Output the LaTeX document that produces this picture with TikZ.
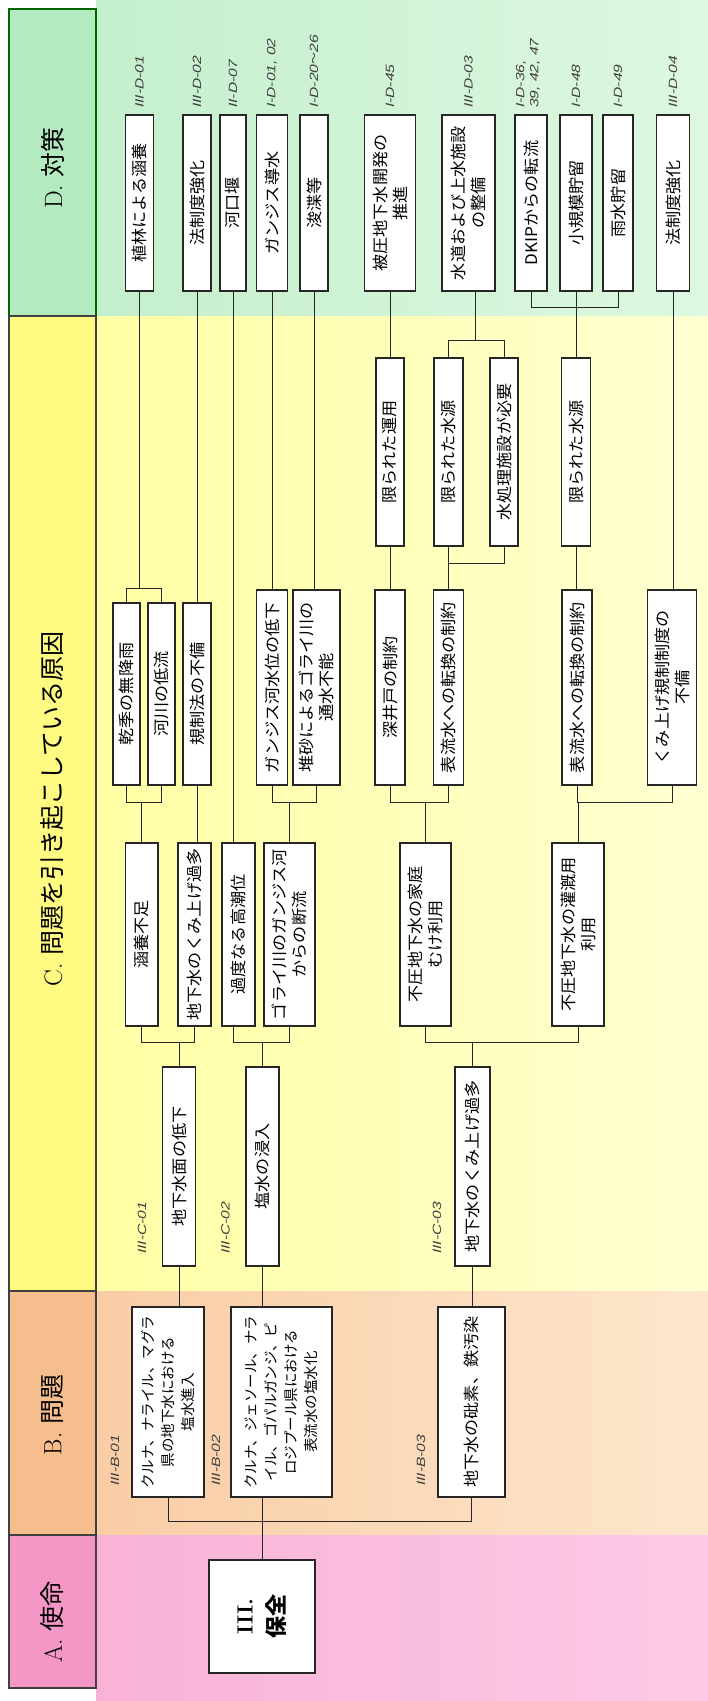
\documentclass[tikz,border=0pt]{standalone}
\usepackage{fontspec}
\newfontfamily\jpf[FakeStretch=1.07]{Noto Sans CJK JP}
\newfontfamily\jpn{Noto Sans CJK JP}
\newfontfamily\lblf[FakeStretch=1.3]{Liberation Sans}
\definecolor{bgDl}{RGB}{196,239,204}
\definecolor{bgDr}{RGB}{222,248,225}
\definecolor{bgCl}{RGB}{255,255,165}
\definecolor{bgCr}{RGB}{255,255,210}
\definecolor{bgBl}{RGB}{249,205,165}
\definecolor{bgBr}{RGB}{253,230,205}
\definecolor{bgAl}{RGB}{248,178,214}
\definecolor{bgAr}{RGB}{252,202,230}
\definecolor{hdD}{RGB}{180,234,192}
\definecolor{hdC}{RGB}{255,250,130}
\definecolor{hdB}{RGB}{245,190,140}
\definecolor{hdA}{RGB}{244,150,198}
\begin{document}
\begin{tikzpicture}[x=1pt,y=-1pt,
  box/.style={draw=black!85, line width=1.1pt, fill=white, rotate=90, align=center, inner sep=1pt,
    font=\jpf\fontsize{16}{20}\selectfont},
  bbox/.style={box, font=\jpn\fontsize{14.5}{20}\selectfont},
  lab/.style={rotate=90, anchor=west, inner sep=0pt, text=black!75,
    font=\lblf\itshape\fontsize{12}{14}\selectfont},
  conn/.style={draw=black!85, line width=1pt},
  hcell/.style={draw=black!75, line width=1.5pt},
  hdr/.style={rotate=90, inner sep=0pt, font=\fontsize{25}{28}\selectfont}
]
\useasboundingbox (0,0) rectangle (708,1701);
\fill[white] (0,0) rectangle (708,1701);
% body bands
\shade[left color=bgDl, right color=bgDr] (96,0) rectangle (708,316);
\shade[left color=bgCl, right color=bgCr] (96,316) rectangle (708,1291);
\shade[left color=bgBl, right color=bgBr] (96,1291) rectangle (708,1535);
\shade[left color=bgAl, right color=bgAr] (96,1535) rectangle (708,1701);
% header cells
\draw[hcell, fill=hdD, draw=green!40!black] (9,9) rectangle (96,316);
\draw[hcell, fill=hdC] (9,316) rectangle (96,1291);
\draw[hcell, fill=hdB] (9,1291) rectangle (96,1535);
\draw[hcell, fill=hdA] (9,1535) rectangle (96,1688);
\node[hdr] (hD) at (52.5,168) {{\rmfamily D.}\ {\jpn 対策}};
\node[hdr] (hC) at (52.5,809) {{\rmfamily C.}\ {\jpn 問題を引き起こしている原因}};
\node[hdr] (hB) at (52.5,1415) {{\rmfamily B.}\ {\jpn 問題}};
\node[hdr] (hA) at (52.5,1622) {{\rmfamily A.}\ {\jpn 使命}};

% ---- D row
\node[box, minimum width=176pt, minimum height=28pt] (d1) at (139.5,203) {植林による涵養};
\node[box, minimum width=176pt, minimum height=28pt] (d2) at (197,203) {法制度強化};
\node[box, minimum width=176pt, minimum height=26pt] (d3) at (233,203) {河口堰};
\node[box, minimum width=176pt, minimum height=31pt] (d4) at (272,203) {ガンジス導水};
\node[box, minimum width=176pt, minimum height=28pt] (d5) at (314,203) {浚渫等};
\node[box, minimum width=176pt, minimum height=51pt] (d6) at (390,203) {被圧地下水開発の\\推進};
\node[box, minimum width=176pt, minimum height=53pt] (d7) at (468.5,203) {水道および上水施設\\の整備};
\node[box, minimum width=176pt, minimum height=32pt] (d8) at (531,203) {DKIPからの転流};
\node[box, minimum width=176pt, minimum height=32pt] (d9) at (576,203) {小規模貯留};
\node[box, minimum width=176pt, minimum height=30pt] (d10) at (618,203) {雨水貯留};
\node[box, minimum width=176pt, minimum height=33pt] (d11) at (673,203) {法制度強化};
% D labels
\node[lab] (ld1) at (139.5,108) {III-D-01};
\node[lab] (ld2) at (197,108) {III-D-02};
\node[lab] (ld3) at (233,108) {II-D-07};
\node[lab] (ld4) at (272,108) {I-D-01, 02};
\node[lab] (ld5) at (314,108) {I-D-20{\jpn ～}26};
\node[lab] (ld6) at (390,108) {I-D-45};
\node[lab] (ld7) at (468.5,108) {III-D-03};
\node[lab, align=left] (ld8) at (528,108) {I-D-36,\\39, 42, 47};
\node[lab] (ld9) at (576,108) {I-D-48};
\node[lab] (ld10) at (618,108) {I-D-49};
\node[lab] (ld11) at (673,108) {III-D-04};

% ---- C3 row
\node[box, minimum width=188pt, minimum height=28pt] (c31) at (390,452) {限られた運用};
\node[box, minimum width=188pt, minimum height=29pt] (c32) at (448.5,452) {限られた水源};
\node[box, minimum width=188pt, minimum height=28pt] (c33) at (504,452) {水処理施設が必要};
\node[box, minimum width=188pt, minimum height=29pt] (c34) at (576,452) {限られた水源};

% ---- C2 row
\node[box, minimum width=182pt, minimum height=27pt] (c21) at (126.5,694) {乾季の無降雨};
\node[box, minimum width=182pt, minimum height=27pt] (c22) at (161.5,694) {河川の低流};
\node[box, minimum width=182pt, minimum height=28pt] (c23) at (197,694) {規制法の不備};
\node[box, minimum width=195pt, minimum height=31pt] (c24) at (272,687.5) {ガンジス河水位の低下};
\node[box, minimum width=195pt, minimum height=47pt] (c25) at (316.5,687.5) {堆砂によるゴライ川の\\通水不能};
\node[box, minimum width=195pt, minimum height=30pt] (c26) at (390,687.5) {深井戸の制約};
\node[box, minimum width=195pt, minimum height=30pt] (c27) at (448.5,687.5) {表流水への転換の制約};
\node[box, minimum width=195pt, minimum height=30pt] (c28) at (577,687.5) {表流水への転換の制約};
\node[box, minimum width=195pt, minimum height=49pt] (c29) at (672,687.5) {くみ上げ規制制度の\\不備};

% ---- C1 row
\node[box, minimum width=183pt, minimum height=32.5pt] (c11) at (141.75,934.5) {涵養不足};
\node[box, minimum width=183pt, minimum height=33pt] (c12) at (194.5,934.5) {地下水のくみ上げ過多};
\node[box, minimum width=183pt, minimum height=33pt] (c13) at (238.5,934.5) {過度なる高潮位};
\node[box, minimum width=183pt, minimum height=51pt] (c14) at (289.5,934.5) {ゴライ川のガンジス河\\からの断流};
\node[box, minimum width=183pt, minimum height=51pt] (c15) at (425.5,934.5) {不圧地下水の家庭\\むけ利用};
\node[box, minimum width=183pt, minimum height=52pt] (c16) at (578,934.5) {不圧地下水の灌漑用\\利用};

% ---- C0 row
\node[box, minimum width=199pt, minimum height=33pt] (c01) at (179,1166.5) {地下水面の低下};
\node[box, minimum width=199pt, minimum height=33pt] (c02) at (262.5,1166.5) {塩水の浸入};
\node[box, minimum width=199pt, minimum height=35pt] (c03) at (472.5,1166.5) {地下水のくみ上げ過多};
\node[lab] (lc1) at (142,1254) {III-C-01};
\node[lab] (lc2) at (225.5,1254) {III-C-02};
\node[lab] (lc3) at (437,1254) {III-C-03};

% ---- B row
\node[bbox, minimum width=190pt, minimum height=72pt] (b1) at (168,1402) {クルナ、ナライル、マグラ\\県の地下水における\\塩水進入};
\node[bbox, minimum width=190pt, minimum height=101pt] (b2) at (281.5,1402) {クルナ、ジェソール、ナラ\\イル、ゴパルガンジ、ピ\\ロジプール県における\\表流水の塩水化};
\node[box, minimum width=190pt, minimum height=67pt] (b3) at (471.5,1402) {地下水の砒素、鉄汚染};
\node[lab] (lb1) at (115,1486) {III-B-01};
\node[lab] (lb2) at (216,1486) {III-B-02};
\node[lab] (lb3) at (421,1486) {III-B-03};

% ---- A root
\node[box, minimum width=113pt, minimum height=106pt, font=\fontsize{22}{32}\selectfont\bfseries] (a) at (262,1616.5) {III.\\{\jpn\bfseries 保全}};

% ---- bus levels
\coordinate (yAB) at (0,1521);
\coordinate (yC01) at (0,1042);
\coordinate (yC12) at (0,802);
\coordinate (yC2D) at (0,588);
\coordinate (yC3b) at (0,563);
\coordinate (yC3t) at (0,340);
\coordinate (yD) at (0,307);
\coordinate (j7) at (475,340);

% A -> B
\draw[conn] (a.east) -- (a.east |- yAB);
\draw[conn] (b1.west) -- (b1.west |- yAB) -- (b3.west |- yAB) -- (b3.west);
\draw[conn] (a.east |- yAB) -- (a.east |- b2.west);
% B -> C0
\draw[conn] (c01.west |- b1.east) -- (c01.west);
\draw[conn] (c02.west |- b2.east) -- (c02.west);
\draw[conn] (c03.west |- b3.east) -- (c03.west);
% C0 -> C1
\draw[conn] (c01.east) -- (c01.east |- yC01);
\draw[conn] (c11.west) -- (c11.west |- yC01) -- (c12.west |- yC01) -- (c12.west);
\draw[conn] (c02.east) -- (c02.east |- yC01);
\draw[conn] (d3.west |- c13.west) -- (d3.west |- yC01) -- (c14.west |- yC01) -- (c14.west);
\draw[conn] (c03.east) -- (c03.east |- yC01);
\draw[conn] (c15.west) -- (c15.west |- yC01) -- (c16.west |- yC01) -- (c16.west);
% C1 -> C2
\draw[conn] (c11.east) -- (c11.east |- yC12);
\draw[conn] (c21.west) -- (c21.west |- yC12) -- (c22.west |- yC12) -- (c22.west);
\draw[conn] (c23.west |- c12.east) -- (c23.west);
\draw[conn] (c14.east) -- (c14.east |- yC12);
\draw[conn] (c24.west) -- (c24.west |- yC12) -- (c25.west |- yC12) -- (c25.west);
\draw[conn] (c15.east) -- (c15.east |- yC12);
\draw[conn] (c26.west) -- (c26.west |- yC12) -- (c27.west |- yC12) -- (c27.west);
\draw[conn] (c16.east) -- (c16.east |- yC12);
\draw[conn] (c28.west) -- (c28.west |- yC12) -- (c29.west |- yC12) -- (c29.west);
% C1-3 -> D3
\draw[conn] (d3.west |- c13.east) -- (d3.west);
% C2 -> C3 / D
\draw[conn] (c21.east) -- (c21.east |- yC2D) -- (c22.east |- yC2D) -- (c22.east);
\draw[conn] (d1.west |- yC2D) -- (d1.west);
\draw[conn] (c23.east) -- (c23.east |- d2.west);
\draw[conn] (c24.east) -- (c24.east |- d4.west);
\draw[conn] (d5.west |- c25.east) -- (d5.west);
\draw[conn] (c26.east) -- (c26.east |- c31.west);
\draw[conn] (c31.east) -- (c31.east |- d6.west);
\draw[conn] (c32.west |- c27.east) -- (c32.west);
\draw[conn] (c33.west) -- (c33.west |- yC3b) -- (c32.west |- yC3b);
\draw[conn] (c32.east) -- (c32.east |- yC3t) -- (c33.east |- yC3t) -- (c33.east);
\draw[conn] (j7) -- (j7 |- d7.west);
\draw[conn] (c34.west |- c28.east) -- (c34.west);
\draw[conn] (c34.east) -- (c34.east |- yD);
\draw[conn] (d8.west) -- (d8.west |- yD) -- (d10.west |- yD) -- (d10.west);
\draw[conn] (d9.west) -- (d9.west |- yD);
\draw[conn] (d11.west |- c29.east) -- (d11.west);
\end{tikzpicture}
\end{document}
